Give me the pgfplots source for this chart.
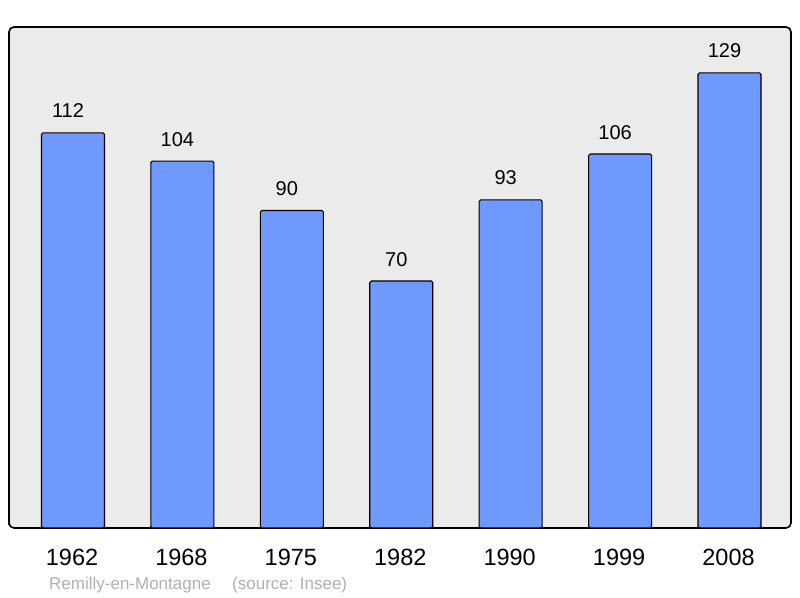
\documentclass[border=0pt]{standalone}
\usepackage{pgfplots}
\pgfplotsset{compat=1.18}
\usepackage{fontspec}
\setmainfont{Liberation Sans}
\definecolor{barblue}{HTML}{7099FF}
\definecolor{bggray}{HTML}{EBEBEB}
\definecolor{srcgray}{HTML}{B0B0B0}
\begin{document}
\begin{tikzpicture}[x=1bp,y=1bp]
\path[use as bounding box] (0,0) rectangle (800,598);
\begin{axis}[
  at={(9bp,70bp)}, anchor=south west,
  scale only axis, width=782bp, height=501bp,
  xmin=-0.585, xmax=6.562, ymin=0, ymax=142,
  axis background/.style={fill=bggray, rounded corners=5bp},
  axis line style={line width=1.6bp, rounded corners=5bp},
  ytick=\empty,
  xtick={0,1,2,3,4,5,6},
  xticklabels={1962,1968,1975,1982,1990,1999,2008},
  major tick length=0pt,
  xticklabel style={anchor=base, yshift=-38bp, xshift=-1bp, font=\fontsize{23.5bp}{26bp}\selectfont},
  /pgf/number format/assume math mode=true,
  ybar, bar width=63bp,
  nodes near coords,
  every node near coord/.append style={anchor=base, yshift=15bp, xshift=-5bp, font=\fontsize{20bp}{22bp}\selectfont, text=black},
  clip=false,
]
\addplot[draw=black, line width=1.1bp, fill=barblue, rounded corners=1.5bp] coordinates {
(0,112) (1,104) (2,90) (3,70) (4,93) (5,106) (6,129)};
\end{axis}
\node[anchor=base west, text=srcgray, font=\fontsize{17bp}{19bp}\selectfont, inner sep=0pt] at (49,8) {Remilly-en-Montagne};
\node[anchor=base west, text=srcgray, font=\fontsize{17bp}{19bp}\selectfont, inner sep=0pt] at (232,8) {(source: Insee)};
\end{tikzpicture}
\end{document}
